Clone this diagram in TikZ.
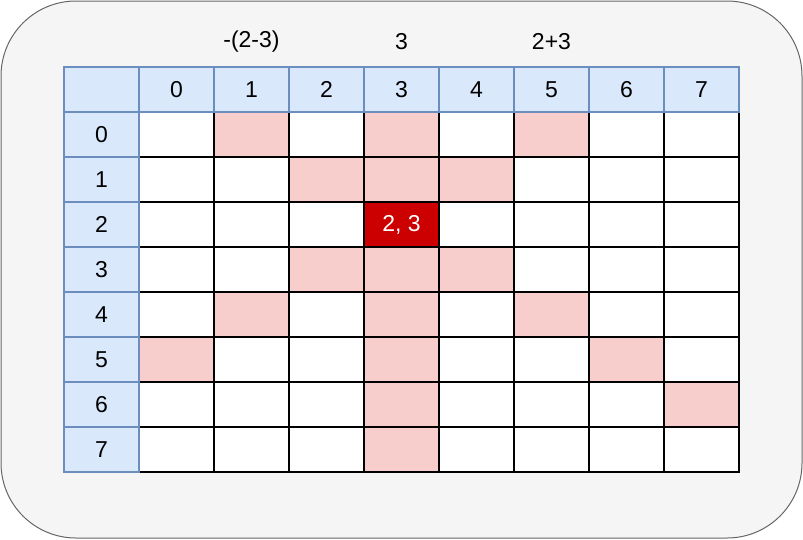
\documentclass[tikz,border=0pt]{standalone}
\usepackage{fontspec}
\setmainfont{Liberation Sans}
\definecolor{hdrfill}{HTML}{DAE8FC}
\definecolor{hdrline}{HTML}{6C8EBF}
\definecolor{hitfill}{HTML}{F8CECC}
\definecolor{queenfill}{HTML}{CC0000}
\definecolor{panelfill}{HTML}{F5F5F5}
\definecolor{panelline}{HTML}{666666}
\begin{document}
\begin{tikzpicture}[x=1pt, y=-1pt, font=\fontsize{23}{27}\selectfont,
    cell/.style = {draw, line width=1.5pt, minimum width=75pt, minimum height=45pt, inner sep=0pt},
    hdr/.style = {cell, draw=hdrline, fill=hdrfill, line width=1.2pt},
    hit/.style = {cell, fill=hitfill},
    queen/.style = {cell, fill=queenfill, text=white}]
  \useasboundingbox (0,0) rectangle (803,539);
  \draw[panelline, fill=panelfill, rounded corners=75pt, line width=1pt] (1,1) rectangle (802,538);
  % sums above the columns
  \node (d1) at (251.5,42) {-(2-3)};
  \node (d3) at (401.5,42) {3};
  \node (d5) at (551.5,42) {2+3};
  % board
  \foreach \r in {0,...,7}
    \foreach \c in {0,...,7}
      \node[cell, fill=white] (c-\r-\c) at (176.5+75*\c, 134.5+45*\r) {};
  \foreach \r/\c in {0/1,0/3,0/5,1/2,1/3,1/4,3/2,3/3,3/4,4/1,4/3,4/5,5/0,5/3,5/6,6/3,6/7,7/3}
    \node[hit] (c-\r-\c) at (176.5+75*\c, 134.5+45*\r) {};
  \node[queen] (q) at (176.5+75*3, 134.5+45*2) {2, 3};
  % headers
  \node[hdr] (h) at (101.5,89.5) {};
  \foreach \i in {0,...,7} {
    \node[hdr] (col-\i) at (176.5+75*\i, 89.5) {\i};
    \node[hdr] (row-\i) at (101.5, 134.5+45*\i) {\i};
  }
\end{tikzpicture}
\end{document}
